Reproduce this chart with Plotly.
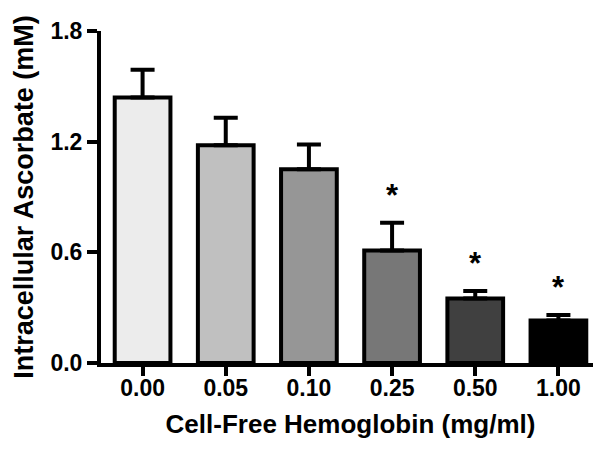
import plotly.graph_objects as go

# data
doses = ["0.00", "0.05", "0.10", "0.25", "0.50", "1.00"]
ascorbate = [1.44, 1.18, 1.05, 0.61, 0.35, 0.23]
sem = [0.15, 0.15, 0.135, 0.15, 0.04, 0.03]
significant = [False, False, False, True, True, True]
bar_colors = ['#ececec', '#c0c0c0', '#969696', '#777777', '#404040', '#000000']

y_ticks = [0.0, 0.6, 1.2, 1.8]

font_family = 'Liberation Sans, Arial, sans-serif'
axis_color = 'black'

fig = go.Figure()

fig.add_trace(
    go.Bar(
        x=doses,
        y=ascorbate,
        width=0.67,
        marker=dict(
            color=bar_colors,
            line=dict(color='black', width=4),
        ),
        error_y=dict(
            type='data',
            symmetric=False,
            array=sem,
            arrayminus=[0] * len(sem),
            color='black',
            thickness=4,
            width=12,
        ),
    )
)

# significance stars above the error bars
for i, (v, e, s) in enumerate(zip(ascorbate, sem, significant)):
    if s:
        fig.add_annotation(
            x=i, y=v + e,
            text='<b>*</b>',
            showarrow=False,
            yanchor='bottom',
            yshift=8,
            font=dict(family=font_family, size=31, color='black'),
        )

fig.update_xaxes(
    type='category',
    range=[-0.5, 5.5],
    showline=True,
    linecolor=axis_color,
    linewidth=4,
    ticks='outside',
    ticklen=9,
    tickwidth=4,
    tickcolor=axis_color,
    ticklabelstandoff=-8,
    showgrid=False,
    tickfont=dict(family=font_family, size=23, color='black', weight='bold'),
    title=dict(
        text='<b>Cell-Free Hemoglobin (mg/ml)</b>',
        font=dict(family=font_family, size=26, color='black', weight='bold'),
        standoff=16,
    ),
)
fig.update_yaxes(
    range=[0, 1.8],
    tickvals=y_ticks,
    ticktext=[f'{t:.1f}' for t in y_ticks],
    showline=True,
    linecolor=axis_color,
    linewidth=4,
    ticks='outside',
    ticklen=10,
    tickwidth=4,
    tickcolor=axis_color,
    showgrid=False,
    zeroline=False,
    tickfont=dict(family=font_family, size=23, color='black', weight='bold'),
    title=dict(
        text='<b>Intracellular Ascorbate (mM)</b>',
        font=dict(family=font_family, size=27, color='black', weight='bold'),
        standoff=10,
    ),
)
fig.update_layout(
    width=601,
    height=449,
    margin=dict(l=93, r=9, t=23, b=94),
    paper_bgcolor='white',
    plot_bgcolor='white',
    showlegend=False,
    bargap=0.33,
)

fig.write_html("out.html")
